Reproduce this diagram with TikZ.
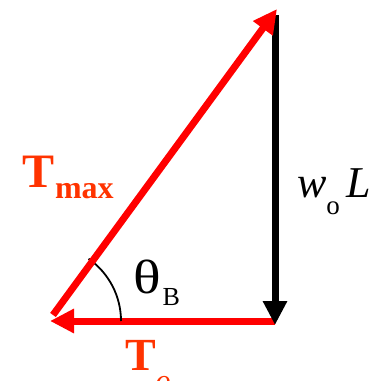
\documentclass[tikz,border=0pt]{standalone}
\usepackage{fontspec}
\setmainfont{Liberation Serif}
\usetikzlibrary{arrows.meta}
\definecolor{forcered}{RGB}{255,0,0}
\definecolor{labelred}{RGB}{255,51,0}

\begin{document}
\begin{tikzpicture}[
    x=1pt, y=-1pt,
    vec/.style={line width=7pt, -{Triangle[length=24pt,width=23pt]}},
    lbl/.style={anchor=base west, inner sep=0pt, outer sep=0pt}
]
\useasboundingbox (0,0) rectangle (374,381);
\clip (0,0) rectangle (374,381);

\coordinate (foot) at (50,321);
\coordinate (corner) at (275,321);
\coordinate (tail) at (53,315);
\coordinate (tip) at (277,9);
\coordinate (top) at (275,15);
\coordinate (bottom) at (275,325);

% horizontal tension
\draw[vec, forcered] (corner) -- (foot);
% angle mark
\draw[line width=1.8pt] (foot) ++(71,0) arc[start angle=0, end angle=-55, radius=76];
% load
\draw[vec, black] (top) -- (bottom);
% max tension
\draw[vec, forcered] (tail) -- (tip);

\node[lbl, text=labelred] (tmax) at (23,187)
  {\fontsize{48}{48}\selectfont\bfseries T\raisebox{-11pt}{\fontsize{32}{32}\selectfont max}};
\node[lbl] (load) at (297,197)
  {\fontsize{44}{44}\selectfont\itshape w\raisebox{-17pt}{\fontsize{27}{27}\selectfont\upshape o}\hspace{7pt}L};
\node[lbl] (theta) at (133,293)
  {\fontsize{48}{48}\selectfont\scalebox{1.2}[1]{θ}\hspace{2pt}\raisebox{-12pt}{\fontsize{26}{26}\selectfont B}};
\node[lbl, text=labelred] (tzero) at (125,370)
  {\fontsize{46}{46}\selectfont\bfseries T\raisebox{-20pt}{\fontsize{30}{30}\selectfont\mdseries\itshape o}};
\end{tikzpicture}
\end{document}
